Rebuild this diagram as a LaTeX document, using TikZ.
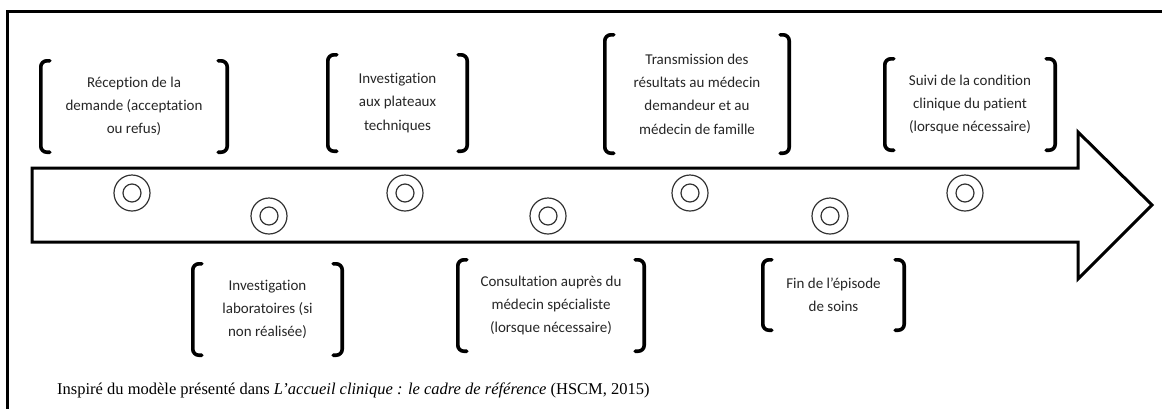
\documentclass[tikz,border=0pt]{standalone}
\usepackage{fontspec}
\setmainfont{Liberation Serif}
\newfontfamily\calib[Ligatures={NoCommon}]{Carlito}
\begin{document}
\begin{tikzpicture}[x=1pt,y=-1pt,
  lbl/.style={inner sep=0pt, align=center, font=\calib\fontsize{15}{23.3}\selectfont, text=black!85},
  brk/.style={line width=3.6pt, rounded corners=6pt, line cap=round},
  dot/.style={circle, draw=black!80, line width=1.2pt, minimum size=36pt, inner sep=0pt},
  dotin/.style={circle, draw=black!80, line width=1.2pt, minimum size=18pt, inner sep=0pt},
  shape arrow/.style={line width=3pt, line join=miter}]
\useasboundingbox (0,0) rectangle (1162,408);
\clip (0,0) rectangle (1162,408);
% frame
\draw[line width=3pt] (7,1000) -- (7,11.5) -- (1300,11.5);
% big arrow
\draw[shape arrow] (32,168) -- (1078,168) -- (1078,132) -- (1152,205) -- (1078,279) -- (1078,242) -- (32,242) -- cycle;
% circles
\foreach \n/\x/\y in {c1/132/193, c2/269/216, c3/405/193, c4/548/216, c5/690/193, c6/830/216, c7/965/193}{
  \node[dot] (\n) at (\x,\y) {};
  \node[dotin] (\n i) at (\n) {};
}
% labels
\node[lbl, minimum width=186pt, minimum height=91pt] (t1) at (134,106.5) {Réception de la\\demande (acceptation\\ou refus)};
\node[lbl, minimum width=139pt, minimum height=96pt] (t2) at (397.5,103) {Investigation\\aux plateaux\\techniques};
\node[lbl, minimum width=184pt, minimum height=118pt] (t3) at (697,94) {Transmission des\\résultats au médecin\\demandeur et au\\médecin de famille};
\node[lbl, minimum width=170pt, minimum height=91pt] (t4) at (970,104.5) {Suivi de la condition\\clinique du patient\\(lorsque nécessaire)};
\node[lbl, minimum width=149pt, minimum height=91pt] (t5) at (267.5,309.5) {Investigation\\laboratoires (si\\non réalisée)};
\node[lbl, minimum width=186pt, minimum height=91pt] (t6) at (551,305.5) {Consultation auprès du\\médecin spécialiste\\(lorsque nécessaire)};
\node[lbl, minimum width=141pt, minimum height=70pt] (t7) at (833.5,295) {Fin de l’épisode\\de soins};
% brackets
\foreach \n in {t1,t2,t3,t4,t5,t6,t7}{
  \draw[brk] ([xshift=9pt]\n.north west) -- (\n.north west) -- (\n.south west) -- ([xshift=9pt]\n.south west);
  \draw[brk] ([xshift=-9pt]\n.north east) -- (\n.north east) -- (\n.south east) -- ([xshift=-9pt]\n.south east);
}
% caption
\node[anchor=west, inner sep=0pt, font=\fontsize{16.5}{19}\selectfont] (cap) at (57,390) {Inspiré du modèle présenté dans \textit{L'accueil clinique : le cadre de référence} (HSCM, 2015)};
\end{tikzpicture}
\end{document}
